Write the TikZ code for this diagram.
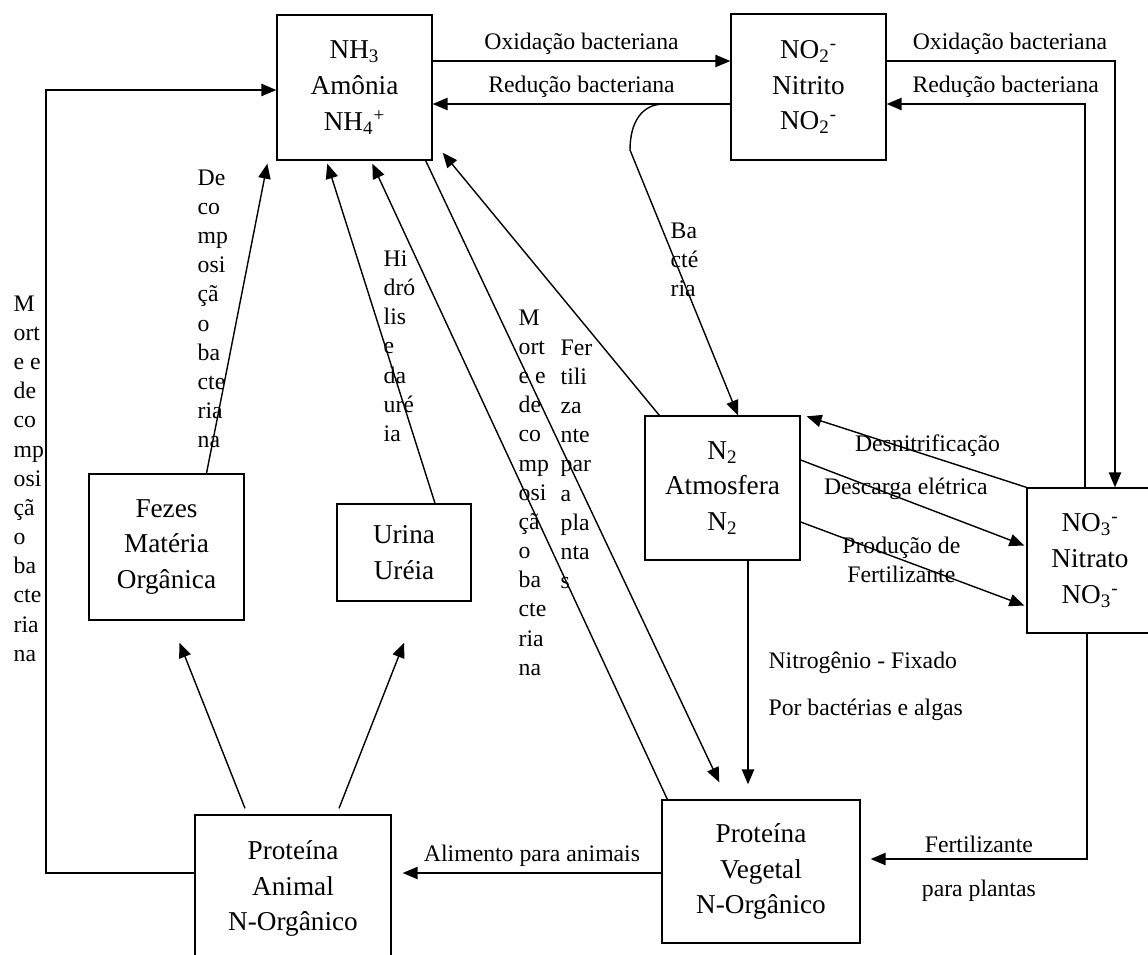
\documentclass[tikz,border=0pt]{standalone}
\usepackage{fontspec}
\setmainfont{Liberation Serif}
\usetikzlibrary{arrows.meta,calc}

\newcommand{\fonterotulo}{\fontsize{13.5}{16.6}\selectfont}
\newcommand{\fontecaixa}{\fontsize{15.5}{20.4}\selectfont}

\begin{document}
\begin{tikzpicture}[x=0.02cm, y=-0.02cm, >={Triangle[length=8.5pt,width=7pt]},
    line width=0.8pt, font=\fonterotulo,
    caixa/.style={draw, align=center, inner sep=0pt, font=\fontecaixa},
    coluna/.style={anchor=north west, align=left, inner sep=0pt}]
    \useasboundingbox (0,0) rectangle (1148,954);

    % ── Caixas ───────────────────────────────────────────────────────
    \node[caixa, minimum width=3.1cm, minimum height=2.9cm] (nh3) at (354.5,87.5)
      {NH\textsubscript{3}\\Amônia\\NH\textsubscript{4}\textsuperscript{+}};
    \node[caixa, minimum width=3.1cm, minimum height=2.92cm] (no2) at (808.5,87)
      {NO\textsubscript{2}\textsuperscript{-}\\Nitrito\\NO\textsubscript{2}\textsuperscript{-}};
    \node[caixa, minimum width=3.1cm, minimum height=2.92cm] (fezes) at (166.5,547)
      {Fezes\\Matéria\\Orgânica};
    \node[caixa, minimum width=2.68cm, minimum height=1.94cm] (urina) at (404,552.5)
      {Urina\\Uréia};
    \node[caixa, minimum width=3.1cm, minimum height=2.88cm] (n2) at (722.5,488)
      {N\textsubscript{2}\\Atmosfera\\N\textsubscript{2}};
    \node[caixa, minimum width=2.52cm, minimum height=2.9cm] (no3) at (1090,560.5)
      {NO\textsubscript{3}\textsuperscript{-}\\Nitrato\\NO\textsubscript{3}\textsuperscript{-}};
    \node[caixa, minimum width=3.92cm, minimum height=2.94cm] (animal) at (293,888.5)
      {Proteína\\Animal\\N-Orgânico};
    \node[caixa, minimum width=3.96cm, minimum height=2.86cm] (vegetal) at (761,871.5)
      {Proteína\\Vegetal\\N-Orgânico};

    % ── Nitrito / amônia / nitrato ───────────────────────────────────
    \draw[->] (nh3.east |- 0,61) -- (no2.west |- 0,61)
      node[midway, above] {Oxidação bacteriana};
    \draw[->] (no2.west |- 0,104) -- (nh3.east |- 0,104)
      node[midway, above] {Redução bacteriana};
    \draw[->] (no2.east |- 0,61) -| (1115,0 |- no3.north)
      node[pos=0.27, above] {Oxidação bacteriana};
    \draw[->] (1085,0 |- no3.north) |- (no2.east |- 0,104)
      node[pos=0.7, above] {Redução bacteriana};

    \coordinate (ramo) at (664,104);
    \draw[->] (ramo) .. controls (642,104) and (630,122) .. (630,150)
      -- (738,0 |- n2.north);
    \node[coluna] (bact) at (670,222) {Ba\\cté\\ria};

    % ── Atmosfera ────────────────────────────────────────────────────
    \draw[->] ($(n2.north west)+(15,0)$) -- ($(nh3.south east)+(10,-8)$);
    \draw[->] (no3.north west) -- ($(n2.north east)+(6,1)$)
      node[pos=0.45, above, yshift=-0.15cm] {Desnitrificação};
    \draw[->] ($(n2.east)+(0,-28)$) -- ($(no3.west)+(-2,-15)$)
      node[pos=0.47, above, yshift=-0.12cm] {Descarga elétrica};
    \draw[->] ($(n2.east)+(0,34)$) -- ($(no3.west)+(-2,45)$)
      node[pos=0.45, align=center] {Produção de\\Fertilizante};
    \draw[->, shorten >=0.3cm] (748,0 |- n2.south) -- (748,0 |- vegetal.north);
    \node[anchor=west, align=left] (fixado) at (762,686)
      {Nitrogênio - Fixado\\[10pt]Por bactérias e algas};

    % ── Retorno à amônia ─────────────────────────────────────────────
    \draw[->] ($(nh3.south east)+(-7,0)$) -- ($(vegetal.north west)+(58,-17)$);
    \draw[->] ($(vegetal.north west)+(6,0)$) -- ($(nh3.south west)+(96,3)$);
    \draw[->] ($(urina.north)+(31,0)$) -- ($(nh3.south west)+(51,3)$);
    \draw[->] ($(fezes.north)+(40,0)$) -- ($(nh3.south west)+(-9,3)$);
    \draw[->] (animal.west |- 0,873) -| (46,90) -- (nh3.west |- 0,90);

    \node[coluna] (morte1) at (13,295)
      {M\\ort\\e e\\de\\co\\mp\\osi\\çã\\o\\ba\\cte\\ria\\na};
    \node[coluna] (decomp) at (197,169)
      {De\\co\\mp\\osi\\çã\\o\\ba\\cte\\ria\\na};
    \node[coluna] (hidro) at (383,250) {Hi\\dró\\lis\\e\\da\\uré\\ia};
    \node[coluna] (morte2) at (518,309)
      {M\\ort\\e e\\de\\co\\mp\\osi\\çã\\o\\ba\\cte\\ria\\na};
    \node[coluna] (fert) at (560,339) {Fer\\tili\\za\\nte\\par\\a\\pla\\nta\\s};

    % ── Animais e plantas ────────────────────────────────────────────
    \draw[->] ($(animal.north)+(-48,-6)$) -- ($(fezes.south)+(13,22)$);
    \draw[->] ($(animal.north)+(46,-6)$) -- ($(urina.south)+(0,41)$);
    \draw[->] (vegetal.west |- 0,873) -- ($(animal.east |- 0,873)+(11,0)$)
      node[midway, above] {Alimento para animais};
    \draw[->] (1087,0 |- no3.south) |- ($(vegetal.east |- 0,859)+(10,0)$)
      node[pos=0.75, above] {Fertilizante}
      node[pos=0.75, below, yshift=-8pt] {para plantas};
  \end{tikzpicture}
\end{document}
